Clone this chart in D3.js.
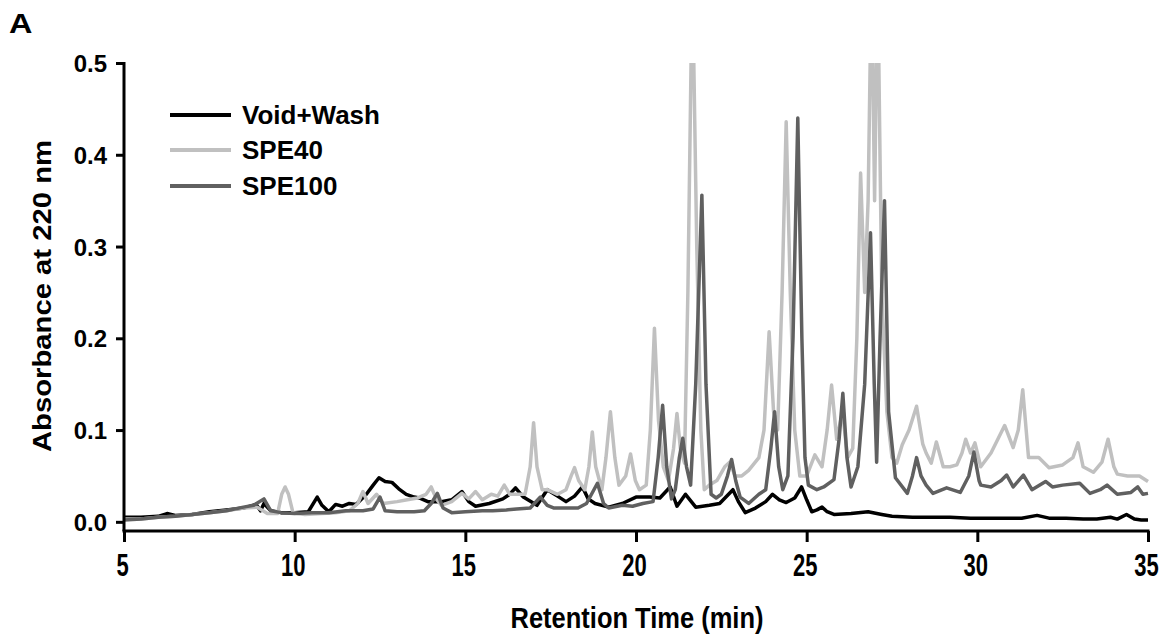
<!DOCTYPE html>
<html>
<head>
<meta charset="utf-8">
<script src="https://cdn.jsdelivr.net/npm/d3@7"></script>
<style>
  html, body { margin: 0; padding: 0; background: #fff; }
  svg { display: block; }
  text { font-family: "Liberation Sans", Arial, sans-serif; font-weight: bold; fill: #000; }
</style>
</head>
<body>
<script>
// ---- Data (retention time in min, absorbance at 220 nm) ----
const seriesNames = ["Void+Wash", "SPE40", "SPE100"];
const seriesColors = ["#000000", "#c0c0c0", "#606060"];
const xTicks = [5, 10, 15, 20, 25, 30, 35];
const yTicks = [0, 0.1, 0.2, 0.3, 0.4, 0.5];

const voidWash = [
  [5.0,0.005],[5.5,0.005],[6.0,0.006],[6.26,0.009],[6.5,0.007],[7.0,0.008],[7.5,0.011],[8.0,0.013],
  [8.5,0.015],[8.87,0.019],[9.0,0.012],[9.1,0.02],[9.3,0.012],[9.6,0.01],[10.0,0.01],[10.4,0.011],
  [10.66,0.027],[10.8,0.018],[11.0,0.011],[11.2,0.019],[11.4,0.017],[11.6,0.02],[11.8,0.019],[12.1,0.03],
  [12.3,0.04],[12.47,0.048],[12.65,0.044],[12.85,0.043],[13.05,0.036],[13.27,0.03],[13.5,0.027],[13.65,0.026],
  [13.9,0.022],[14.3,0.022],[14.6,0.024],[14.9,0.033],[15.1,0.022],[15.3,0.017],[15.7,0.02],[16.1,0.025],
  [16.3,0.03],[16.47,0.037],[16.7,0.027],[17.1,0.018],[17.4,0.035],[17.7,0.028],[17.95,0.022],[18.2,0.028],
  [18.43,0.038],[18.6,0.025],[18.8,0.02],[19.2,0.016],[19.6,0.02],[20.0,0.027],[20.4,0.027],[20.7,0.026],
  [21.0,0.038],[21.2,0.017],[21.45,0.03],[21.75,0.016],[22.15,0.018],[22.45,0.02],[22.84,0.035],[23.0,0.022],
  [23.2,0.01],[23.5,0.015],[23.8,0.022],[24.0,0.03],[24.2,0.024],[24.4,0.021],[24.65,0.026],[24.85,0.038],
  [25.0,0.024],[25.15,0.011],[25.3,0.013],[25.45,0.016],[25.6,0.011],[25.8,0.008],[26.3,0.009],[26.8,0.011],
  [27.2,0.008],[27.5,0.006],[28.1,0.005],[28.8,0.005],[29.2,0.005],[29.8,0.004],[30.2,0.004],[30.8,0.004],
  [31.3,0.004],[31.75,0.007],[32.1,0.004],[32.6,0.004],[33.1,0.003],[33.5,0.003],[33.9,0.005],[34.1,0.003],
  [34.37,0.008],[34.6,0.003],[34.8,0.002],[35.0,0.002]
];

const spe40 = [
  [5.0,0.003],[5.5,0.003],[6.0,0.005],[6.5,0.006],[7.0,0.008],[7.5,0.01],[8.0,0.012],[8.5,0.015],
  [8.9,0.016],[9.2,0.009],[9.5,0.009],[9.62,0.03],[9.72,0.038],[9.82,0.03],[9.95,0.01],[10.3,0.008],
  [10.8,0.009],[11.2,0.01],[11.6,0.012],[11.85,0.02],[12.0,0.033],[12.15,0.02],[12.4,0.03],[12.6,0.02],
  [13.0,0.022],[13.3,0.024],[13.6,0.026],[13.85,0.03],[14.0,0.038],[14.15,0.025],[14.3,0.018],[14.6,0.022],
  [14.9,0.031],[15.1,0.025],[15.3,0.033],[15.5,0.024],[15.76,0.03],[15.95,0.028],[16.14,0.04],[16.3,0.03],
  [16.5,0.03],[16.75,0.03],[16.9,0.06],[17.0,0.108],[17.1,0.06],[17.25,0.035],[17.4,0.035],[17.7,0.03],
  [17.95,0.035],[18.1,0.05],[18.2,0.059],[18.32,0.045],[18.5,0.035],[18.62,0.06],[18.72,0.098],[18.82,0.06],
  [19.0,0.035],[19.12,0.07],[19.25,0.12],[19.38,0.07],[19.5,0.04],[19.7,0.05],[19.84,0.074],[19.98,0.045],
  [20.1,0.035],[20.3,0.04],[20.42,0.1],[20.54,0.211],[20.66,0.11],[20.8,0.06],[20.95,0.045],[21.1,0.08],
  [21.2,0.118],[21.3,0.08],[21.42,0.064],[21.52,0.25],[21.65,0.6],[21.78,0.3],[21.9,0.1],[22.0,0.035],
  [22.15,0.04],[22.37,0.045],[22.6,0.06],[22.75,0.065],[22.9,0.05],[23.1,0.05],[23.3,0.056],[23.6,0.07],
  [23.75,0.1],[23.9,0.207],[24.03,0.12],[24.15,0.1],[24.28,0.25],[24.4,0.436],[24.52,0.25],[24.65,0.1],
  [24.8,0.05],[25.0,0.05],[25.24,0.073],[25.45,0.06],[25.6,0.1],[25.73,0.149],[25.88,0.09],[26.05,0.12],
  [26.2,0.07],[26.35,0.08],[26.47,0.2],[26.58,0.38],[26.7,0.25],[26.8,0.35],[26.9,0.6],[26.99,0.35],
  [27.08,0.6],[27.2,0.25],[27.35,0.12],[27.5,0.07],[27.64,0.064],[27.8,0.084],[28.0,0.1],[28.22,0.126],
  [28.4,0.085],[28.5,0.075],[28.65,0.064],[28.8,0.087],[29.0,0.06],[29.2,0.06],[29.4,0.062],[29.55,0.075],
  [29.66,0.09],[29.8,0.075],[29.93,0.086],[30.1,0.06],[30.4,0.075],[30.6,0.09],[30.8,0.105],[31.05,0.081],
  [31.2,0.1],[31.33,0.144],[31.5,0.07],[31.8,0.07],[32.1,0.059],[32.5,0.062],[32.8,0.07],[32.95,0.086],
  [33.1,0.06],[33.4,0.054],[33.65,0.065],[33.83,0.09],[34.0,0.06],[34.1,0.052],[34.4,0.05],[34.75,0.05],
  [35.0,0.044]
];

const spe100 = [
  [5.0,0.002],[5.5,0.003],[6.0,0.005],[6.5,0.006],[7.0,0.008],[7.5,0.01],[8.0,0.012],[8.5,0.016],
  [8.8,0.018],[9.1,0.025],[9.3,0.012],[9.6,0.01],[10.0,0.009],[10.5,0.01],[11.0,0.01],[11.5,0.012],
  [12.0,0.012],[12.3,0.014],[12.5,0.027],[12.65,0.012],[13.0,0.011],[13.5,0.011],[13.8,0.012],[14.0,0.02],
  [14.18,0.031],[14.35,0.015],[14.6,0.01],[15.0,0.011],[15.5,0.012],[15.8,0.012],[16.2,0.013],[16.5,0.014],
  [16.9,0.015],[17.2,0.027],[17.4,0.018],[17.6,0.015],[18.0,0.015],[18.3,0.015],[18.55,0.02],[18.87,0.042],
  [19.05,0.02],[19.2,0.015],[19.6,0.018],[19.9,0.017],[20.2,0.02],[20.5,0.022],[20.65,0.07],[20.78,0.127],
  [20.9,0.06],[21.04,0.025],[21.15,0.035],[21.27,0.07],[21.37,0.091],[21.48,0.06],[21.6,0.04],[21.75,0.15],
  [21.93,0.356],[22.05,0.15],[22.2,0.03],[22.35,0.026],[22.5,0.03],[22.68,0.05],[22.8,0.068],[22.92,0.045],
  [23.05,0.027],[23.3,0.02],[23.6,0.03],[23.8,0.035],[23.95,0.08],[24.06,0.12],[24.18,0.06],[24.3,0.035],
  [24.45,0.05],[24.6,0.2],[24.74,0.44],[24.86,0.2],[24.95,0.07],[25.05,0.04],[25.3,0.035],[25.5,0.038],
  [25.8,0.046],[25.95,0.09],[26.06,0.14],[26.18,0.07],[26.3,0.038],[26.5,0.06],[26.7,0.15],[26.87,0.315],
  [26.98,0.15],[27.05,0.065],[27.15,0.2],[27.28,0.35],[27.4,0.12],[27.6,0.048],[27.95,0.031],[28.1,0.05],
  [28.22,0.07],[28.35,0.05],[28.5,0.04],[28.7,0.031],[29.1,0.037],[29.5,0.032],[29.75,0.05],[29.9,0.076],
  [30.05,0.045],[30.1,0.04],[30.4,0.038],[30.7,0.045],[30.86,0.051],[31.05,0.038],[31.35,0.051],[31.6,0.035],
  [32.0,0.044],[32.2,0.038],[32.5,0.04],[33.0,0.042],[33.3,0.031],[33.6,0.035],[33.8,0.04],[34.1,0.03],
  [34.5,0.032],[34.7,0.038],[34.85,0.03],[35.0,0.031]
];

const seriesData = [voidWash, spe40, spe100];

// ---- Layout ----
const W = 1162, H = 641;
const plot = { left: 124, right: 1148, top: 63, bottom: 531 };

const svg = d3.select("body").append("svg").attr("width", W).attr("height", H);

const x = d3.scaleLinear().domain([5, 35]).range([plot.left, plot.right]);
const y = d3.scaleLinear().domain([-0.01, 0.5]).range([plot.bottom, plot.top]);

svg.append("defs").append("clipPath").attr("id", "plotClip")
  .append("rect")
  .attr("x", plot.left).attr("y", plot.top)
  .attr("width", plot.right - plot.left + 6).attr("height", plot.bottom - plot.top);

const line = d3.line().x(d => x(d[0])).y(d => y(d[1]));

const g = svg.append("g").attr("clip-path", "url(#plotClip)");
seriesData.forEach((data, i) => {
  g.append("path")
    .datum(data)
    .attr("d", line)
    .attr("fill", "none")
    .attr("stroke", seriesColors[i])
    .attr("stroke-width", 3.5)
    .attr("stroke-linejoin", "round");
});

// ---- Axes ----
const yAxis = d3.axisLeft(y).tickValues(yTicks).tickFormat(d3.format(".1f")).tickSizeOuter(0).tickSize(8).tickPadding(9);
const yg = svg.append("g").attr("transform", `translate(${plot.left},0)`).call(yAxis);
yg.select(".domain").attr("stroke", "#000").attr("stroke-width", 3).attr("d", `M0,${plot.top - 1}V${plot.bottom}`);
yg.selectAll(".tick line").attr("stroke", "#000").attr("stroke-width", 3);
yg.selectAll(".tick text").style("font-size", "24px").style("font-family", "Liberation Sans, Arial, sans-serif").style("font-weight", "bold").attr("dy", "0.36em");

const xAxis = d3.axisBottom(x).tickValues(xTicks).tickFormat(d3.format("d")).tickSizeOuter(0).tickSize(11).tickPadding(12);
const xg = svg.append("g").attr("transform", `translate(0,${plot.bottom})`).call(xAxis);
xg.select(".domain").attr("stroke", "#000").attr("stroke-width", 3).attr("d", `M${plot.left - 1.5},0H${plot.right + 1.5}`);
xg.selectAll(".tick line").attr("stroke", "#000").attr("stroke-width", 3);
xg.selectAll(".tick text")
  .style("font-size", "22px").style("font-family", "Liberation Sans, Arial, sans-serif").style("font-weight", "bold")
  .attr("x", 0).attr("y", 0).attr("dy", 0)
  .attr("transform", "translate(-2,45) scale(1,1.4)");

// ---- Titles ----
svg.append("text")
  .attr("transform", "translate(637,628) scale(1,1.15)")
  .attr("text-anchor", "middle")
  .style("font-size", "25.5px")
  .text("Retention Time (min)");

svg.append("text")
  .attr("transform", "translate(51,296) rotate(-90)")
  .attr("text-anchor", "middle")
  .attr("textLength", 312).attr("lengthAdjust", "spacingAndGlyphs")
  .style("font-size", "26px")
  .text("Absorbance at 220 nm");

svg.append("text")
  .attr("transform", "translate(9,33) scale(1.2,1)")
  .style("font-size", "27px")
  .text("A");

// ---- Legend ----
const legendY = [115, 150, 186];
const lg = svg.append("g");
seriesNames.forEach((name, i) => {
  lg.append("line")
    .attr("x1", 170).attr("x2", 231)
    .attr("y1", legendY[i]).attr("y2", legendY[i])
    .attr("stroke", seriesColors[i]).attr("stroke-width", 4);
  lg.append("text")
    .attr("x", 242).attr("y", legendY[i])
    .attr("dy", "0.36em")
    .style("font-size", "26px")
    .text(name);
});
</script>
</body>
</html>
